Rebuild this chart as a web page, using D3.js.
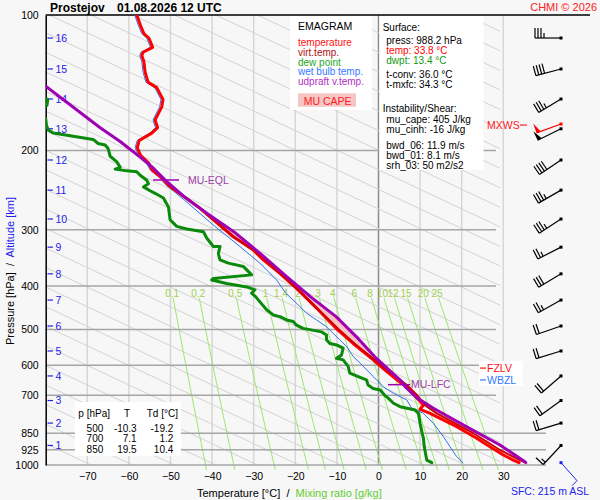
<!DOCTYPE html>
<html>
<head>
<meta charset="utf-8">
<script src="https://cdn.jsdelivr.net/npm/d3@7"></script>
<style>
  body { margin: 0; background: #f7f7f7; }
  text { font-family: "Liberation Sans", Arial, sans-serif; white-space: pre; }
</style>
</head>
<body>
<svg id="chart"></svg>
<script>
// ---- axes / reference values ----
const pTicks = [100, 200, 300, 400, 500, 600, 700, 850, 925, 1000];
const tTicks = [-70, -60, -50, -40, -30, -20, -10, 0, 10, 20, 30];
const mixRatios = [0.1, 0.2, 0.5, 1, 1.4, 2, 3, 4, 6, 8, 10, 12, 15, 20, 25];

// altitude marks (km) and the pressure they sit at
const altKm = [1, 2, 3, 4, 5, 6, 7, 8, 9, 10, 11, 12, 13, 14, 15, 16];
const altP  = [905, 807, 719, 634, 558, 491, 430, 376, 328, 284, 245, 210, 179, 153.7, 131.8, 112.5];

// wind at each km (direction deg, speed kt)
const windDir = [223, 253, 234, 229, 253, 251, 241, 239, 243, 237, 240, 236, 244, 239, 255, 270];
const windSpd = [15, 20, 20, 20, 20, 20, 25, 30, 25, 35, 35, 40, 50, 35, 40, 35];
const mxwsP = 174.7, mxwsDir = 250, mxwsSpd = 50;

// ---- sounding (surface upward) ----
const tempP = [988.2, 975, 950, 911, 872, 822, 768, 752, 736, 700, 664, 658, 620, 584, 537, 501, 464, 448, 412, 405, 375, 350, 333, 311, 269, 239, 230, 221, 213, 205, 197, 190, 183, 178, 171, 160, 154, 145, 141, 134, 127, 123, 121, 118, 112.5, 110, 105, 100];
const tempT = [33.8, 32.4, 30.0, 26.8, 23.6, 18.8, 12.4, 10.0, 10.8, 8.6, 6.2, 5.4, 2.0, -1.25, -6.1, -9.8, -13.3, -14.9, -18.9, -19.7, -23.7, -27.7, -30.1, -34.9, -42.9, -50.5, -52.1, -54.4, -55.3, -57.2, -58.0, -57.5, -54.5, -53.1, -53.7, -52.1, -51.8, -53.3, -55.4, -56.1, -56.4, -56.9, -56.6, -54.3, -55.2, -56.4, -57.3, -58.1];

const virtP = [988.2, 975, 926, 850, 768, 736, 700, 664, 620, 584, 537, 501, 464, 412, 375, 333, 311, 269, 239];
const virtT = [35.3, 34.0, 29.2, 22.8, 14.0, 11.2, 9.3, 6.8, 2.5, -0.9, -5.8, -9.4, -13.1, -18.8, -23.6, -30.0, -34.8, -42.9, -50.5];

const dewP = [988.2, 975, 911, 872, 850, 808, 768, 755, 752, 745, 742, 729, 711, 700, 681, 676, 664, 647, 636, 625, 604, 584, 579, 570, 550, 541, 537, 527, 514, 506, 497, 489, 480, 476, 468, 464, 452, 434, 423, 415, 408, 402, 395, 388, 385, 378, 362, 356, 350, 339, 327, 327, 313, 303, 299, 295, 285, 267, 255, 249, 247, 241, 237, 233, 227, 223, 222, 220, 218, 212, 206, 198, 194.5, 193, 189, 186, 183, 180, 176, 170, 168, 161, 159, 154, 151, 100];
const dewT = [12.8, 11.6, 11.0, 10.8, 10.5, 10.0, 9.6, 8.8, 8.0, 6.0, 5.2, 3.6, 2.4, 1.5, 0.4, -1.3, -2.5, -2.9, -4.9, -6.9, -7.3, -8.5, -10.1, -8.9, -8.5, -10.1, -11.7, -12.5, -12.5, -13.7, -18.1, -19.7, -20.5, -22.1, -23.7, -25.3, -26.9, -28.5, -29.5, -30.5, -29.7, -31.7, -36.5, -40.1, -39.7, -30.5, -32.5, -36.1, -38.1, -38.5, -38.1, -39.7, -41.3, -42.1, -46.1, -48.5, -50.1, -50.5, -51.7, -53.7, -54.5, -56.5, -55.3, -55.7, -57.3, -58.1, -60.5, -63.3, -62.1, -62.9, -64.5, -65.0, -65.7, -67.4, -68.6, -73.4, -78.2, -79.4, -79.8, -80.0, -82, -82, -79.7, -79.5, -82, -84];

const wetP = [988.2, 983, 958, 911, 865, 808, 768, 755, 748, 717, 705, 693, 670, 636, 615, 594, 574, 546, 527, 510, 493, 476, 460, 437, 415, 388, 356, 327, 293, 258, 239, 230, 221, 213, 205, 197, 190, 183, 178, 171, 160, 154, 145, 141, 134, 127, 123, 121, 118, 112.5, 110, 105, 100];
const wetT = [20.3, 20.0, 18.8, 17.2, 15.6, 13.2, 10.8, 9.2, 8.0, 6.8, 5.2, 3.6, 1.15, -1.25, -2.8, -4.4, -6.1, -7.6, -9.3, -10.9, -12.5, -14.9, -17.3, -19.7, -22.3, -24.5, -28.5, -33.3, -39.7, -46.6, -51.0, -52.6, -54.9, -55.8, -57.7, -58.5, -58.0, -55.0, -53.6, -54.2, -52.6, -52.3, -53.8, -55.9, -56.6, -56.9, -57.4, -57.1, -54.8, -55.7, -56.9, -57.8, -58.6];

const parcelP = [988.2, 983, 903, 822, 748, 711, 670, 653, 575, 519, 468, 430, 423, 382, 339, 303, 276, 253, 235, 219, 207, 191, 178, 144, 138];
const parcelT = [35.4, 35.2, 29.2, 21.2, 13.2, 9.4, 6.4, 5.6, -0.9, -5.3, -10.2, -15.3, -16.3, -22.0, -28.4, -34.8, -41.2, -46.8, -50.8, -54.1, -57.3, -62.1, -66.9, -80.0, -82.0];

const lfcP = 663, eqlP = 232.6, fzlvP = 609, wbzlP = 647;
const sfcP = 988.2;

const tableRows = [["500", "-10.3", "-19.2"], ["700", "7.1", "1.2"], ["850", "19.5", "10.4"]];
const infoLines = [
  ["Surface:", 0, "#000"], ["press: 988.2 hPa", 1, "#000"], ["temp: 33.8 °C", 1, "#ff0000"], ["dwpt: 13.4 °C", 1, "#119911"],
  ["t-conv: 36.0 °C", 1, "#000"], ["t-mxfc: 34.3 °C", 1, "#000"], ["Instability/Shear:", 0, "#000"],
  ["mu_cape: 405 J/kg", 1, "#000"], ["mu_cinh: -16 J/kg", 1, "#000"], ["bwd_06: 11.9 m/s", 1, "#000"],
  ["bwd_01: 8.1 m/s", 1, "#000"], ["srh_03: 50 m2/s2", 1, "#000"]
];
const infoY = [27.3, 40, 50, 60, 74.3, 84.3, 108.3, 119.3, 129.7, 145, 155, 165];
const legendItems = [["temperature", "#ff1010"], ["virt.temp.", "#b01010"], ["dew point", "#22aa22"], ["wet bulb temp.", "#3377ff"], ["udpraft v.temp.", "#b030c0"]];

// ---- setup ----
const svg = d3.select("#chart").attr("width", 600).attr("height", 500);
svg.append("rect").attr("width", 600).attr("height", 500).attr("fill", "#f7f7f7");

const x = d3.scaleLinear().domain([-80, 30]).range([45.7, 503.3]);
const y = d3.scaleLog().domain([100, 1000]).range([15, 465]);
const plotL = x.range()[0], plotT = y.range()[0], plotB = y.range()[1];

const defs = svg.append("defs");
defs.append("clipPath").attr("id", "plotClip").append("rect")
  .attr("x", plotL).attr("y", plotT).attr("width", 590 - plotL).attr("height", plotB - plotT);
defs.append("clipPath").attr("id", "gridClip").append("rect")
  .attr("x", plotL).attr("y", plotT).attr("width", 500 - plotL).attr("height", plotB - plotT + 6);

const grid = svg.append("g");

// isotherms
grid.selectAll(".iso").data(tTicks).join("line")
  .attr("x1", d => x(d)).attr("x2", d => x(d)).attr("y1", plotT).attr("y2", plotB)
  .attr("stroke", d => d === 0 ? "#8a8a8a" : "#d6d6d6").attr("stroke-width", 1.5);

// grey diagonals (dry adiabats, drawn straight)
const adiabatK = 230;
const adiabatBase = d3.range(-79.1, 281, 10);
grid.append("g").attr("clip-path", "url(#gridClip)")
  .selectAll("line").data(adiabatBase).join("line")
  .attr("x1", d => x(d - adiabatK)).attr("y1", y(100))
  .attr("x2", d => x(d)).attr("y2", y(1000))
  .attr("stroke", "#d2d2d2").attr("stroke-width", 1);

// mixing ratio lines
function dewFromMix(w, p) {
  const e = w * p / (622 + w), l = Math.log(e / 6.112);
  return 243.5 * l / (17.67 - l);
}
const mixLine = d3.line().x(d => x(d[1])).y(d => y(d[0]));
const mixPs = [425, 500, 600, 700, 800, 900, 1025];
grid.append("g").selectAll("path").data(mixRatios).join("path")
  .attr("d", w => mixLine(mixPs.map(p => [p, dewFromMix(w, p)])))
  .attr("fill", "none").attr("stroke", "#9be870").attr("stroke-width", 1);
grid.append("g").selectAll("text").data(mixRatios).join("text")
  .attr("x", w => x(dewFromMix(w, 415))).attr("y", y(415)).attr("dy", "0.36em")
  .attr("text-anchor", "middle").attr("font-size", 10).attr("fill", "#a0d050")
  .text(d => d);

// pressure lines
const longP = [850, 925, 1000];
grid.selectAll(".pl").data(pTicks.slice(1)).join("line")
  .attr("x1", plotL).attr("x2", d => longP.includes(d) ? 546 : 496)
  .attr("y1", d => y(d)).attr("y2", d => y(d))
  .attr("stroke", "#a6a6a6").attr("stroke-width", 1.5);
svg.append("line").attr("x1", plotL).attr("x2", 590).attr("y1", plotT).attr("y2", plotT)
  .attr("stroke", "#000").attr("stroke-width", 1.5);

// ---- boxes ----
svg.append("rect").attr("x", 290).attr("y", 16).attr("width", 82).attr("height", 94).attr("fill", "#fff");
svg.append("rect").attr("x", 379.5).attr("y", 16).attr("width", 104).attr("height", 154).attr("fill", "#fff");
svg.append("rect").attr("x", 75).attr("y", 402).attr("width", 106).attr("height", 54).attr("fill", "#fff");
svg.append("rect").attr("x", 479).attr("y", 361).attr("width", 44).attr("height", 25).attr("fill", "#fff");

// legend
svg.append("text").attr("x", 298).attr("y", 26).attr("dy", "0.36em").attr("font-size", 10.5).text("EMAGRAM");
svg.append("g").selectAll("text").data(legendItems).join("text")
  .attr("x", 298).attr("y", (d, i) => 42.3 + i * 9.85).attr("dy", "0.36em")
  .attr("font-size", 10).attr("fill", d => d[1]).text(d => d[0]);
svg.append("rect").attr("x", 298).attr("y", 93.3).attr("width", 58).attr("height", 13.4).attr("fill", "#f6c6c6");
svg.append("text").attr("x", 303.7).attr("y", 101.2).attr("dy", "0.36em").attr("font-size", 10.5)
  .attr("fill", "#ff2020").text("MU CAPE");

// info
svg.append("g").selectAll("text").data(infoLines).join("text")
  .attr("x", d => d[1] ? 386.3 : 382.7).attr("y", (d, i) => infoY[i]).attr("dy", "0.36em")
  .attr("font-size", 10).attr("fill", d => d[2]).text(d => d[0]);

// level table
const tbl = svg.append("g").attr("font-size", 10);
tbl.append("text").attr("x", 78.3).attr("y", 413.3).attr("dy", "0.36em").text("p [hPa]");
tbl.append("text").attr("x", 124).attr("y", 413.3).attr("dy", "0.36em").text("T");
tbl.append("text").attr("x", 146.7).attr("y", 413.3).attr("dy", "0.36em").text("Td [°C]");
const colRight = [103.3, 136.7, 173.3];
tableRows.forEach((row, r) => {
  row.forEach((v, c) => {
    tbl.append("text").attr("x", colRight[c]).attr("y", 428.3 + r * 10.4).attr("dy", "0.36em")
      .attr("text-anchor", "end").text(v);
  });
});

// ---- axes ----
svg.append("g").attr("transform", `translate(${plotL},0)`)
  .call(d3.axisLeft(y).tickValues(pTicks).tickFormat(d3.format("d")).tickSize(0).tickSizeOuter(0).tickPadding(7))
  .call(g => g.select(".domain").attr("stroke", "#000").attr("stroke-width", 1.5))
  .call(g => g.selectAll("text").attr("font-size", 10.5).attr("fill", "#000"));

svg.append("g").attr("transform", `translate(0,${plotB})`)
  .call(d3.axisBottom(x).tickValues(tTicks).tickSize(0).tickPadding(8))
  .call(g => g.select(".domain").remove())
  .call(g => g.selectAll("text").attr("font-size", 10.5).attr("fill", "#000"));

// altitude marks
const alt = svg.append("g");
alt.selectAll("line").data(altP).join("line")
  .attr("x1", 47.5).attr("x2", 53).attr("y1", d => y(d)).attr("y2", d => y(d))
  .attr("stroke", "#2222ee").attr("stroke-width", 1.2);
alt.selectAll("text").data(altP).join("text")
  .attr("x", 55.5).attr("y", d => y(d)).attr("dy", "0.36em").attr("font-size", 10.5)
  .attr("fill", "#2222ee").text((d, i) => altKm[i]);

// axis titles
const xt = svg.append("text").attr("x", 197).attr("y", 497).attr("font-size", 11);
xt.append("tspan").attr("fill", "#000").text("Temperature [°C]  /  ");
xt.append("tspan").attr("fill", "#66cc33").text("Mixing ratio [g/kg]");
const yt = svg.append("text").attr("transform", "translate(14,271) rotate(-90)")
  .attr("text-anchor", "middle").attr("font-size", 11);
yt.append("tspan").attr("fill", "#000").text("Pressure [hPa]  /  ");
yt.append("tspan").attr("fill", "#2222ee").text("Altitude [km]");

// title
svg.append("text").attr("x", 50).attr("y", 12).attr("font-size", 12).attr("font-weight", "bold").text("Prostejov");
svg.append("text").attr("x", 117).attr("y", 12).attr("font-size", 12).attr("font-weight", "bold").text("01.08.2026 12 UTC");
svg.append("text").attr("x", 597).attr("y", 10.5).attr("text-anchor", "end").attr("font-size", 11)
  .attr("fill", "#ff2020").text("CHMI © 2026");

// ---- profiles ----
function interp(ps, ts, p) {
  for (let i = 0; i < ps.length - 1; i++) {
    const a = ps[i], b = ps[i + 1];
    if ((p <= a && p >= b) || (p >= a && p <= b)) {
      const f = (Math.log(p) - Math.log(a)) / (Math.log(b) - Math.log(a));
      return ts[i] + f * (ts[i + 1] - ts[i]);
    }
  }
  return NaN;
}
const prof = svg.append("g").attr("clip-path", "url(#plotClip)");

// CAPE fill between parcel and virtual temperature (temperature above the top of virt data)
const capeSamples = d3.range(Math.log(lfcP), Math.log(eqlP), -0.01).map(lp => {
  const p = Math.exp(lp);
  let env = interp(virtP, virtT, p);
  if (isNaN(env)) env = interp(tempP, tempT, p);
  return { p, env, parcel: interp(parcelP, parcelT, p) };
});
prof.append("path")
  .attr("d", d3.area().defined(d => d.parcel > d.env).y(d => y(d.p)).x0(d => x(d.env)).x1(d => x(d.parcel))(capeSamples))
  .attr("fill", "#f6c2c2").attr("stroke", "none");

function drawProfile(ps, ts, color, width) {
  prof.append("path")
    .attr("d", d3.line().x((d, i) => x(ts[i])).y(d => y(d))(ps))
    .attr("fill", "none").attr("stroke", color).attr("stroke-width", width)
    .attr("stroke-linejoin", "round").attr("stroke-linecap", "round");
}
drawProfile(wetP, wetT, "#2f6fee", 1);
drawProfile(dewP, dewT, "#0a8a0a", 3);
drawProfile(tempP, tempT, "#ff0000", 3);
drawProfile(virtP, virtT, "#d00000", 2);
drawProfile(parcelP, parcelT, "#a000b4", 3);

// level labels
function levelLabel(p, x1, x2, tx, label) {
  svg.append("line").attr("x1", x1).attr("x2", x2).attr("y1", y(p)).attr("y2", y(p))
    .attr("stroke", "#a000b4").attr("stroke-width", 1.5);
  svg.append("text").attr("x", tx).attr("y", y(p)).attr("dy", "0.36em").attr("font-size", 10.5)
    .attr("fill", "#a040a8").text(label);
}
levelLabel(eqlP, 153, 179, 188, "MU-EQL");
levelLabel(lfcP, 388, 410, 411, "MU-LFC");

[[fzlvP, "#ff1010", "FZLV"], [wbzlP, "#3377ff", "WBZL"]].forEach(([p, c, t]) => {
  svg.append("line").attr("x1", 480).attr("x2", 486).attr("y1", y(p)).attr("y2", y(p)).attr("stroke", c).attr("stroke-width", 1.2);
  svg.append("text").attr("x", 487).attr("y", y(p)).attr("dy", "0.36em").attr("font-size", 10.5).attr("fill", c).text(t);
});

// ---- wind barbs ----
const barbX = 561;
function drawBarb(g, cx, cy, dir, spd, color) {
  const a = dir * Math.PI / 180, ux = Math.sin(a), uy = -Math.cos(a), px = -uy, py = ux;
  const L = 26, len = 10, step = 3;
  const pt = s => [cx + ux * (L - s), cy + uy * (L - s)];
  g.append("line").attr("x1", cx).attr("y1", cy).attr("x2", cx + ux * L).attr("y2", cy + uy * L)
    .attr("stroke", color).attr("stroke-width", 1.2);
  g.append("rect").attr("x", cx - 1.5).attr("y", cy - 1.5).attr("width", 3).attr("height", 3).attr("fill", color);
  let s = 0, rest = Math.round(spd / 5) * 5;
  while (rest >= 50) {
    const p1 = pt(s), p2 = pt(s + 4.5);
    g.append("polygon").attr("points", [p1, p2, [p1[0] + px * len, p1[1] + py * len]].map(q => q.join(",")).join(" "))
      .attr("fill", color);
    s += 5.5; rest -= 50;
  }
  while (rest >= 10) {
    const p1 = pt(s);
    g.append("line").attr("x1", p1[0]).attr("y1", p1[1]).attr("x2", p1[0] + px * len).attr("y2", p1[1] + py * len)
      .attr("stroke", color).attr("stroke-width", 1.2);
    s += step; rest -= 10;
  }
  if (rest >= 5) {
    if (s === 0) s = step;
    const p1 = pt(s);
    g.append("line").attr("x1", p1[0]).attr("y1", p1[1]).attr("x2", p1[0] + px * len / 2).attr("y2", p1[1] + py * len / 2)
      .attr("stroke", color).attr("stroke-width", 1.2);
  }
}
const barbs = svg.append("g");
altP.forEach((p, i) => drawBarb(barbs, barbX, y(p), windDir[i], windSpd[i], "#000"));
drawBarb(barbs, barbX, y(mxwsP), mxwsDir, mxwsSpd, "#ff0000");
svg.append("text").attr("x", 487).attr("y", y(mxwsP) + 1.5).attr("dy", "0.36em").attr("font-size", 10.5)
  .attr("fill", "#ff2020").text("MXWS");
svg.append("line").attr("x1", 520).attr("x2", 527).attr("y1", y(mxwsP) + 1).attr("y2", y(mxwsP) + 1)
  .attr("stroke", "#ff2020").attr("stroke-width", 1.2);

// surface marker
const sy = y(sfcP);
svg.append("rect").attr("x", barbX - 1.5).attr("y", sy - 1.5).attr("width", 3).attr("height", 3).attr("fill", "#2222ee");
svg.append("path").attr("d", `M${barbX},${sy}L${barbX + 16},${sy + 18}L${barbX + 11},${sy + 23}`)
  .attr("fill", "none").attr("stroke", "#2222ee").attr("stroke-width", 1);
svg.append("text").attr("x", 550).attr("y", 491).attr("dy", "0.36em").attr("text-anchor", "middle")
  .attr("font-size", 10.5).attr("fill", "#2222ee").text("SFC: 215 m ASL");
</script>
</body>
</html>
